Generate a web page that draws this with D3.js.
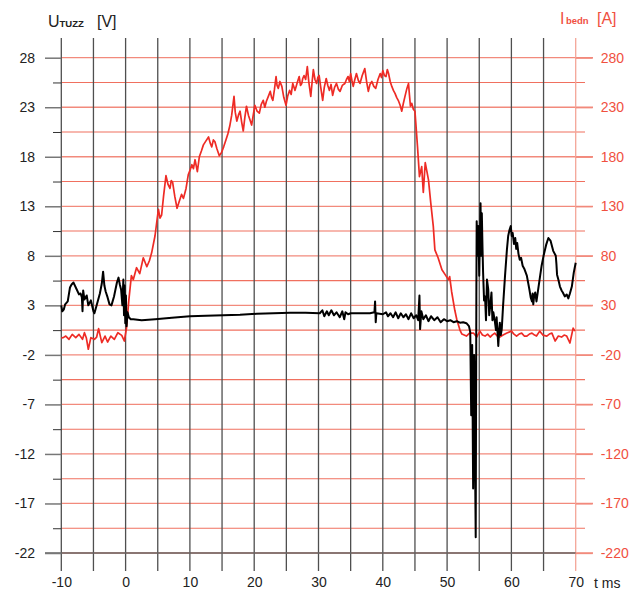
<!DOCTYPE html>
<html>
<head>
<meta charset="utf-8">
<script src="https://cdn.jsdelivr.net/npm/d3@7"></script>
<style>
  html, body { margin: 0; padding: 0; background: #fff; }
  svg { display: block; font-family: "Liberation Sans", Arial, sans-serif; }
</style>
</head>
<body>
<svg id="chart" width="638" height="598"></svg>
<script>
// ---------------- DATA ----------------
const timeTicks = [-10, 0, 10, 20, 30, 40, 50, 60, 70];
const timeGrid = [-10, -5, 0, 5, 10, 15, 20, 25, 30, 35, 40, 45, 50, 55, 60, 65, 70];
const voltTicks = [28, 23, 18, 13, 8, 3, -2, -7, -12, -17, -22];
const voltMinor = [25.5, 20.5, 15.5, 10.5, 5.5, 0.5, -4.5, -9.5, -14.5, -19.5];
const ampTicks = [280, 230, 180, 130, 80, 30, -20, -70, -120, -170, -220];

// current I_bedn [A] : [t ms, A]
const currentData = [[-10,-3],[-9.7,-2.6],[-9.3,-1],[-8.8,-4.3],[-8.3,0.7],[-7.75,-2.6],[-7.25,0.7],[-6.7,-4.3],[-6.4,2.4],[-6.1,-3],[-5.8,-14.3],[-5.4,-2.6],[-4.85,-4.3],[-4.5,-2],[-4.2,6.5],[-3.7,-7.6],[-3.2,-1],[-2.8,-7],[-2.3,-1],[-1.75,-4.3],[-1.2,2.4],[-0.6,-0.3],[-0.2,-6],[0.15,7.6],[0.5,35],[0.9,60],[1.2,56],[1.7,68],[2.2,62],[2.75,78],[3.3,69],[3.7,75],[4.05,83],[4.57,100],
[5.1,127],[5.35,118],[5.6,121],[5.9,140],[6.28,161],[6.6,152],[6.9,148],[7.1,156],[7.32,154],[7.65,140],[8.0,128],[8.3,134],[8.7,142],[9.0,138],[9.4,148],[9.75,162],[10.0,166],[10.3,172],[10.55,168],[10.8,177],[11.16,165],[11.47,180],[11.8,186],[12.1,192],[12.5,196],[12.9,200],[13.15,194],[13.4,190],[13.65,197],[13.9,195],[14.2,188],[14.57,181],[14.9,184],[15.25,190],[15.6,197],[15.9,203],[16.2,211],[16.5,222],[16.86,241],[17.05,225],[17.3,216],[17.55,222],[17.8,226],[18.05,215],[18.3,206],[18.55,220],[18.8,231],[19.1,222],[19.35,217],[19.6,212],[19.85,222],
[20.1,232],[20.45,226],[20.8,224],[21.1,233],[21.4,237],[21.65,230],[21.9,236],[22.2,241],[22.5,246],[22.7,240],[22.9,237],[23.15,248],[23.4,261],[23.55,252],[23.75,249],[24.0,256],[24.3,251],[24.6,240],[24.95,232],[25.2,241],[25.5,247],[25.75,243],[26.0,254],[26.2,250],[26.35,247],[26.7,255],[27.0,261],[27.2,252],[27.4,254],[27.55,259],[27.75,262],[28.0,258],[28.26,271],[28.5,255],[28.8,241],[29.0,255],[29.2,268],[29.45,258],[29.7,254],[29.9,260],[30.1,262],[30.35,250],[30.65,237],[30.9,250],[31.2,259],[31.45,252],[31.7,247],[31.95,253],[32.2,242],[32.5,250],[32.8,254],[33.1,248],[33.35,246],[33.7,252],[34.1,254],[34.35,258],[34.6,261],[34.8,256],[35.0,264],[35.2,257],[35.4,251],[35.65,258],[35.9,264],[36.2,257],[36.45,254],[36.8,262],[37.2,269],[37.5,255],[37.75,246],[38.0,253],[38.3,256],[38.6,251],[38.9,249],[39.25,258],[39.6,264],[39.8,260],[40.0,267],[40.25,262],[40.5,261],[40.7,268],[40.9,264],[41.15,256],[41.4,251],[41.65,247],[41.9,244],[42.15,240],[42.4,237],[42.7,232],[42.95,226],[43.2,234],[43.45,241],[43.75,249],[44.0,254],[44.15,242],[44.3,231],[44.5,234],[44.75,228],
[45.0,226],[45.1,217],[45.4,190],[45.7,160],[46.05,170],[46.3,144],[46.6,174],[47.1,157],[47.45,134],[47.85,110],[48.1,86],[48.6,78],[49.2,66],[49.7,61],[50.2,56],[50.4,59],[50.7,44],[51.2,25],[51.5,16],[52.0,5],[52.3,1],[53.0,-1],[53.5,2],[54.1,2],[54.6,-2],[55.1,4],[55.5,0],[55.9,-1],[56.3,1],[56.7,-2],[57.0,0],[57.4,2],[57.8,-1],[58.2,-2],[58.7,0],[59.3,2],[60.0,4],[60.4,1],[60.8,-1],[61.2,1],[61.6,2],[62.0,-1],[62.4,-1],[62.8,1],[63.2,2],[63.6,0],[63.9,-1],[64.4,4],[64.9,0],[65.5,-1],[65.9,1],[66.3,2],[66.8,-6],[67.3,-1],[67.8,-2],[68.2,0],[68.6,-1],[69.1,-8],[69.6,7],[69.9,4]];

// voltage U_TUZZ [V] : [t ms, V]
const voltageData = [[-10,3.0],[-9.85,2.4],[-9.6,2.6],[-9.4,3.1],[-9.0,3.4],[-8.65,4.8],[-8.4,5.1],[-8.1,5.3],[-7.6,4.6],[-7.25,4.1],[-7.0,4.2],[-6.8,3.8],[-6.7,2.4],[-6.6,4.5],[-6.4,3.6],[-6.05,4.0],[-5.8,3.0],[-5.4,3.5],[-5.0,2.4],[-4.85,2.2],[-4.5,3.0],[-4.0,4.2],[-3.7,5.2],[-3.5,6.4],[-3.3,5.0],[-3.1,4.4],[-2.8,3.8],[-2.5,3.1],[-2.2,3.0],[-1.8,3.9],[-1.35,5.3],[-1.1,5.8],[-0.9,5.1],[-0.7,4.6],[-0.5,3.0],[-0.35,5.6],[-0.25,2.0],[-0.15,5.0],[-0.05,1.2],[0.05,4.0],[0.15,0.9],[0.3,2.3],[0.5,1.8],[0.8,1.6],[1.2,1.6],[2.5,1.5],[4.6,1.6],[7.2,1.75],[10.0,1.9],[12.5,1.95],[15.2,2.0],[17.8,2.05],[20.4,2.15],[23.0,2.2],[25.6,2.25],[28,2.25],[30.2,2.2],[30.6,2.5],[30.9,1.9],[31.3,2.4],[31.6,2.0],[32.0,2.5],[32.4,2.0],[32.8,2.3],[33.3,1.8],[33.7,2.4],[34.0,1.6],[34.2,2.3],[34.6,2.1],[35,2.2],[36.5,2.2],[38.0,2.2],[38.7,2.3],[38.8,3.4],[38.9,1.3],[39.0,2.2],[40.0,2.1],[40.5,2.3],[40.8,1.9],[41.2,2.2],[41.6,1.8],[42.0,2.3],[42.4,1.7],[42.8,2.2],[43.2,1.8],[43.6,2.1],[44.0,1.6],[44.4,2.2],[44.8,1.7],[45.2,2.0],[45.5,1.5],[45.7,4.0],[45.8,0.6],[46.0,2.4],[46.3,1.6],[46.7,2.0],[47.1,1.4],[47.5,1.9],[48.0,1.5],[48.5,1.8],[49.0,1.3],[49.5,1.6],[50.0,1.4],[50.5,1.5],[51.0,1.3],[51.5,1.4],[52.0,1.25],[52.5,1.3],[53.0,1.2],[53.4,0.9],[53.6,0.3],[53.75,-8.1],[53.9,-1],[54.05,-15.5],[54.2,-2],[54.45,-20.4],[54.55,4],[54.6,11.5],[54.75,8],[54.85,11.0],[55.0,6],[55.2,13.3],[55.3,8],[55.4,12.3],[55.5,9.0],[55.6,6.3],[55.75,3.5],[55.9,3.9],[56.05,1.5],[56.2,5.6],[56.4,4.6],[56.55,2],[56.7,2.9],[56.9,4.3],[57.05,1.5],[57.2,2.3],[57.45,1.25],[57.6,0.5],[57.7,1.8],[57.85,0.2],[57.96,-1.1],[58.1,0.5],[58.2,1.25],[58.35,0],[58.5,0.6],[58.7,2.9],[59.0,5.9],[59.3,8.6],[59.5,10.0],[59.7,10.6],[59.9,11.0],[60.05,10.0],[60.2,10.3],[60.4,9.2],[60.6,9.8],[60.75,8.7],[60.9,9.3],[61.1,8.2],[61.3,7.6],[61.5,7.8],[61.75,7.0],[62.0,6.7],[62.4,6.0],[62.8,4.6],[63.0,3.8],[63.2,3.4],[63.3,4.2],[63.4,3.1],[63.55,4.0],[63.7,4.3],[63.9,3.4],[64.1,4.3],[64.45,5.9],[64.7,7.0],[65.0,8.0],[65.4,9.1],[65.75,9.8],[66.1,9.5],[66.5,8.5],[66.9,8.0],[67.0,7.2],[67.1,6.1],[67.3,5.6],[67.55,4.9],[67.8,4.5],[68.0,4.3],[68.3,3.9],[68.6,4.1],[68.85,3.7],[69.1,4.2],[69.4,4.9],[69.7,6.3],[70.0,7.3]];

// ---------------- CHART ----------------
const svg = d3.select("#chart");
const RED = "#ee2b25";
const GRIDRED = "#f0705f";
const GRIDRED_MAJOR = "#f28a7c";
const LABELRED = "#f0503f";
const GRID = "#4f4f4f";
const fmt = d => String(d);   // plain hyphen-minus like the original

const x = d3.scaleLinear().domain([-10, 70]).range([61.3, 575.7]);
const yL = d3.scaleLinear().domain([-22, 28]).range([553, 57.7]);
const yR = d3.scaleLinear().domain([-220, 280]).range([553, 57.7]);

const gridTop = 38, gridBottom = 571;

// horizontal red grid lines (major + minor)
svg.append("g").selectAll("line").data(voltTicks).join("line")
  .attr("x1", x(-10)).attr("x2", 593)
  .attr("y1", d => yL(d)).attr("y2", d => yL(d))
  .attr("stroke", GRIDRED_MAJOR).attr("stroke-width", 1.3);
svg.append("g").selectAll("line").data(voltMinor).join("line")
  .attr("x1", x(-10)).attr("x2", 585)
  .attr("y1", d => yL(d)).attr("y2", d => yL(d))
  .attr("stroke", GRIDRED).attr("stroke-width", 1.1);

// vertical grid lines
svg.append("g").selectAll("line").data(timeGrid.filter(d => d !== 70)).join("line")
  .attr("x1", d => x(d)).attr("x2", d => x(d))
  .attr("y1", gridTop).attr("y2", gridBottom)
  .attr("stroke", GRID).attr("stroke-width", 1.3);
// right axis line (red)
svg.append("line")
  .attr("x1", x(70)).attr("x2", x(70)).attr("y1", gridTop).attr("y2", gridBottom)
  .attr("stroke", "#f4a598").attr("stroke-width", 1.3);

// bottom axis line
svg.append("line")
  .attr("x1", 45).attr("x2", x(70)).attr("y1", yL(-22)).attr("y2", yL(-22))
  .attr("stroke", "#666").attr("stroke-width", 1.5);

// left axis (labels + major ticks)
const leftAxis = svg.append("g").attr("transform", `translate(${x(-10)},0)`)
  .call(d3.axisLeft(yL).tickValues(voltTicks).tickSize(16.3).tickPadding(10).tickFormat(fmt));
leftAxis.select(".domain").remove();
leftAxis.selectAll(".tick line").attr("stroke", "#777").attr("stroke-width", 1.5);
leftAxis.selectAll(".tick text").attr("fill", "#222").attr("font-size", 14)
  .attr("font-family", "Liberation Sans, Arial, sans-serif");
const leftMinor = svg.append("g").attr("transform", `translate(${x(-10)},0)`)
  .call(d3.axisLeft(yL).tickValues(voltMinor).tickSize(8.3).tickFormat(""));
leftMinor.select(".domain").remove();
leftMinor.selectAll(".tick line").attr("stroke", "#333").attr("stroke-width", 1);

// right axis labels
const rightAxis = svg.append("g").attr("transform", `translate(${x(70)},0)`)
  .call(d3.axisRight(yR).tickValues(ampTicks).tickSize(17).tickPadding(8).tickFormat(fmt));
rightAxis.select(".domain").remove();
rightAxis.selectAll(".tick line").attr("stroke", GRIDRED_MAJOR).attr("stroke-width", 1.3);
rightAxis.selectAll(".tick text").attr("fill", LABELRED).attr("font-size", 14)
  .attr("font-family", "Liberation Sans, Arial, sans-serif");

// bottom axis labels
const bottomAxis = svg.append("g").attr("transform", `translate(0,${yL(-22)})`)
  .call(d3.axisBottom(x).tickValues(timeTicks).tickSize(0).tickPadding(24).tickFormat(fmt));
bottomAxis.select(".domain").remove();
bottomAxis.selectAll(".tick text").attr("fill", "#222").attr("font-size", 14)
  .attr("font-family", "Liberation Sans, Arial, sans-serif");

svg.append("text").attr("x", 594).attr("y", 588).attr("font-size", 14).attr("fill", "#222").text("t ms");

// axis titles
const tl = svg.append("text").attr("x", 48).attr("y", 27).attr("fill", "#222");
tl.append("tspan").attr("font-size", 16).text("U");
tl.append("tspan").attr("font-size", 9.5).attr("font-weight", "bold").text("TUZZ");
svg.append("text").attr("x", 97).attr("y", 27).attr("font-size", 16).attr("fill", "#222").text("[V]");

const tr = svg.append("text").attr("x", 560).attr("y", 24).attr("fill", LABELRED);
tr.append("tspan").attr("font-size", 16).text("I");
tr.append("tspan").attr("dx", 1.5).attr("font-size", 9.5).attr("font-weight", "bold").text("bedn");
svg.append("text").attr("x", 597).attr("y", 24).attr("font-size", 16).attr("fill", LABELRED).text("[A]");

// series
const lineR = d3.line().x(d => x(d[0])).y(d => yR(d[1]));
const lineV = d3.line().x(d => x(d[0])).y(d => yL(d[1]));

svg.append("path").datum(currentData).attr("d", lineR)
  .attr("fill", "none").attr("stroke", RED).attr("stroke-width", 1.7).attr("stroke-linejoin", "round");
svg.append("path").datum(voltageData).attr("d", lineV)
  .attr("fill", "none").attr("stroke", "#000").attr("stroke-width", 2).attr("stroke-linejoin", "round");
</script>
</body>
</html>
